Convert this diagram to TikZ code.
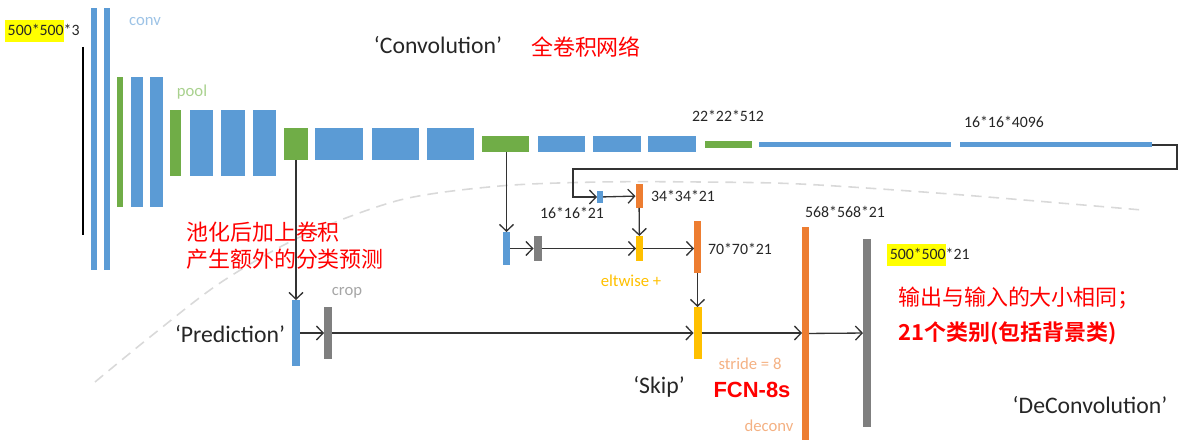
\documentclass[tikz,border=0pt]{standalone}
\usepackage{fontspec}
\setmainfont{Carlito}
\newfontfamily\cjk{Noto Sans CJK SC}[BoldFont={Noto Sans CJK SC Bold}]
\newfontfamily\arialb{Liberation Sans}
\usetikzlibrary{arrows.meta}
\definecolor{convc}{HTML}{5B9BD5}
\definecolor{poolc}{HTML}{70AD47}
\definecolor{upc}{HTML}{ED7D31}
\definecolor{cropc}{HTML}{7F7F7F}
\definecolor{fusec}{HTML}{FFC000}
\definecolor{convt}{HTML}{9DC3E6}
\definecolor{poolt}{HTML}{A9D18E}
\definecolor{cropt}{HTML}{A6A6A6}
\definecolor{upt}{HTML}{F4B183}
\definecolor{txt}{HTML}{262626}
\definecolor{hl}{HTML}{FFFF00}
\setlength{\fboxsep}{0pt}
\newcommand{\hlsize}[1]{\colorbox{hl}{\rule[-4pt]{0pt}{13pt}\kern1.5pt#1}}

\begin{document}
\begin{tikzpicture}[
  x=0.02cm, y=-0.02cm,
  bar/.style={rectangle, inner sep=0pt, outer sep=0pt, draw=none},
  sz/.style 2 args={minimum width=#1*0.02cm, minimum height=#2*0.02cm},
  conv/.style={bar, fill=convc},
  pool/.style={bar, fill=poolc},
  up/.style={bar, fill=upc},
  crop/.style={bar, fill=cropc},
  fuse/.style={bar, fill=fusec},
  dim/.style={font=\fontsize{9}{11}\selectfont, text=txt, inner sep=1pt},
  tag/.style={font=\fontsize{9.5}{11}\selectfont, inner sep=1pt},
  stage/.style={font=\fontsize{13.5}{16}\selectfont, text=txt},
  note/.style={font=\cjk\fontsize{12.5}{15.5}\selectfont, text=red, align=left, anchor=west},
  arr/.style={-{Straight Barb[length=3.8pt,width=8pt]}, draw=black!80, line width=0.75pt}
]
\useasboundingbox (0,0) rectangle (1187,445);

\draw[gray!30, line width=0.9pt, dash pattern=on 6pt off 4pt] plot[smooth] coordinates {(95,382) (150,337) (220,283) (300,237) (400,200) (500,186) (600,182) (700,182) (800,184) (950,194) (1142,210)};

\node[conv, sz={6}{262}] (conv1a) at (94,139) {};
\node[conv, sz={6}{262}] (conv1b) at (107,139) {};
\node[pool, sz={6}{130}] (pool1) at (120,142) {};
\node[conv, sz={12}{130}] (conv2a) at (137,142) {};
\node[conv, sz={13}{130}] (conv2b) at (156.5,142) {};
\node[pool, sz={11}{66}] (pool2) at (175.5,143) {};
\node[conv, sz={23}{66}] (conv3a) at (201.5,143) {};
\node[conv, sz={24}{66}] (conv3b) at (233,143) {};
\node[conv, sz={23}{66}] (conv3c) at (264.5,143) {};
\node[pool, sz={24}{32}] (pool3) at (296,144) {};
\node[conv, sz={48}{32}] (conv4a) at (339,144) {};
\node[conv, sz={47}{32}] (conv4b) at (395.5,144) {};
\node[conv, sz={47}{32}] (conv4c) at (450.5,144) {};
\node[pool, sz={47}{16}] (pool4) at (505.5,144) {};
\node[conv, sz={47}{16}] (conv5a) at (561.5,144) {};
\node[conv, sz={48}{16}] (conv5b) at (617,144) {};
\node[conv, sz={48}{16}] (conv5c) at (672,144) {};
\node[pool, sz={47}{7}] (pool5) at (728.5,145) {};
\node[conv, sz={192}{5}] (fc6) at (855,145) {};
\node[conv, sz={192}{5}] (fc7) at (1056,145) {};

\node[conv, sz={6}{12}] (score7) at (600,197) {};
\node[up, sz={7}{24}] (up2) at (639,196) {};
\node[conv, sz={7}{33}] (score4) at (506.5,248.5) {};
\node[crop, sz={8}{25}] (crop4) at (537.5,248.5) {};
\node[fuse, sz={7}{25}] (fuse4) at (639.5,248.5) {};
\node[up, sz={7}{52}] (up4) at (697.5,247) {};
\node[conv, sz={8}{66}] (score3) at (296,333) {};
\node[crop, sz={8}{52}] (crop3) at (328,333) {};
\node[fuse, sz={8}{52}] (fuse3) at (697.5,333) {};
\node[up, sz={7}{213}] (up8) at (805.5,333.5) {};
\node[crop, sz={8}{188}] (out) at (867,333) {};

\coordinate (inTop) at (83,47);
\coordinate (inBot) at (83,235);
\coordinate (loopR) at (1177,169);
\coordinate (loopL) at (573,169);
\draw[black, line width=1.1pt] (inTop) -- (inBot);
\draw[arr] (fc7.east) -| (loopR) -- (loopL) |- (score7.west);
\draw[arr] (score7) -- (up2);
\draw[arr] (up2) -- (fuse4);
\draw[arr] (score4.north |- pool4.south) -- (score4.north);
\draw[arr] (score4) -- (crop4);
\draw[arr] (crop4) -- (fuse4);
\draw[arr] (fuse4) -- (up4.west |- fuse4);
\draw[arr] (up4) -- (fuse3);
\draw[arr] (score3.north |- pool3.south) -- (score3.north);
\draw[arr] (score3) -- (crop3);
\draw[arr] (crop3) -- (fuse3);
\draw[arr] (fuse3) -- (up8.west |- fuse3);
\draw[arr] (up8) -- (out);

\node[dim, anchor=west] (inLbl) at (3,31) {\hlsize{500*500}*3};
\node[tag, text=convt] (convLbl) at (145,22) {conv};
\node[tag, text=poolt] (poolLbl) at (192,92) {pool};
\node[stage] (convTitle) at (438,45) {‘Convolution’};
\node[note, anchor=center] (fcnNote) at (586,47) {全卷积网络};
\node[dim] (dim5) at (728,116) {22*22*512};
\node[dim] (dim7) at (1004,122) {16*16*4096};
\node[dim] (dimS7) at (572,213) {16*16*21};
\node[dim] (dimU2) at (683,196) {34*34*21};
\node[dim] (dimU4) at (740,249) {70*70*21};
\node[tag, text=fusec] (eltLbl) at (631,281) {eltwise +};
\node[note] (poolNote) at (180,246) {池化后加上卷积\\产生额外的分类预测};
\node[stage] (predTitle) at (230,334) {‘Prediction’};
\node[tag, text=cropt] (cropLbl) at (347,293) {crop};
\node[tag, text=upt] (strideLbl) at (750,364) {stride = 8};
\node[font=\arialb\bfseries\fontsize{12.5}{15}\selectfont, text=red] (fcnLbl) at (752,390) {FCN-8s};
\node[stage] (skipTitle) at (659,387) {‘Skip’};
\node[tag, text=upt] (deconvLbl) at (769,426) {deconv};
\node[dim] (dimU8) at (845,212) {568*568*21};
\node[dim, anchor=west] (outLbl) at (885,255) {\hlsize{500*500}*21};
\node[note] (outNote1) at (892,298) {输出与输入的大小相同；};
\node[note, font=\cjk\bfseries\fontsize{12.5}{15.5}\selectfont] (outNote2) at (892,333) {21个类别(包括背景类)};
\node[stage] (deconvTitle) at (1090,405) {‘DeConvolution’};
\end{tikzpicture}
\end{document}
